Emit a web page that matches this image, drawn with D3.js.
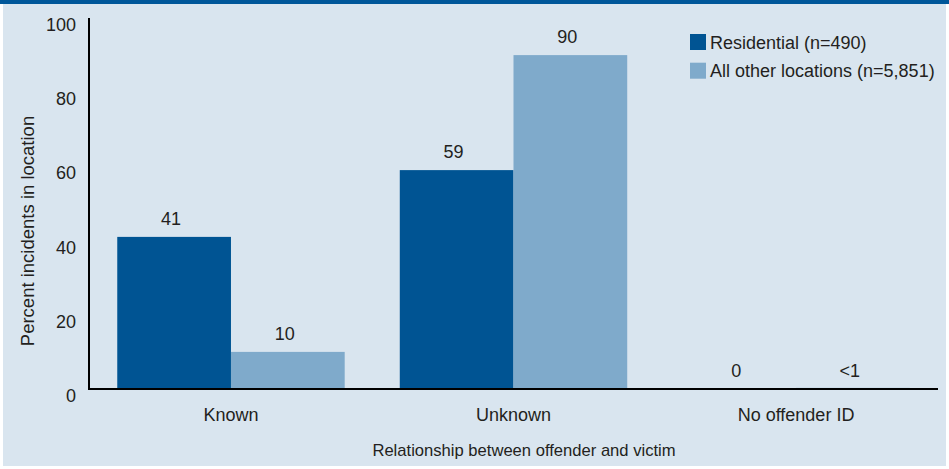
<!DOCTYPE html>
<html>
<head>
<meta charset="utf-8">
<script src="https://cdn.jsdelivr.net/npm/d3@7"></script>
<style>
  html, body { margin: 0; padding: 0; background: #fff; }
  svg { display: block; font-family: "Liberation Sans", Arial, sans-serif; }
</style>
</head>
<body>
<svg id="chart" width="949" height="469"></svg>
<script>
// Data
const categories = ["Known", "Unknown", "No offender ID"];
const seriesNames = ["Residential (n=490)", "All other locations (n=5,851)"];
const residential = [41, 59, 0];
const otherLocations = [10, 90, 0.3];
const residentialLabels = ["41", "59", "0"];
const otherLabels = ["10", "90", "<1"];
const yTicks = [0, 20, 40, 60, 80, 100];

const colors = ["#005493", "#7faacb"];
const textColor = "#231f20";

const svg = d3.select("#chart");
const W = 949, H = 469;

// background panel + top rule
svg.append("rect").attr("x", 3).attr("y", 0).attr("width", W - 6).attr("height", H - 3).attr("fill", "#d9e5ef");
svg.append("rect").attr("x", 0).attr("y", 0).attr("width", W).attr("height", 4).attr("fill", "#00579a");

const m = { left: 89, right: 11, top: 18, bottom: 80 };
const x0 = d3.scaleBand().domain(categories).range([m.left, W - m.right]).paddingInner(0.195).paddingOuter(0.1);
const x1 = d3.scaleBand().domain([0, 1]).range([0, x0.bandwidth()]);
const y = d3.scaleLinear().domain([0, 100]).range([H - m.bottom, m.top]);

const rows = categories.map((c, i) => ({
  cat: c,
  vals: [
    { s: 0, v: residential[i], label: residentialLabels[i] },
    { s: 1, v: otherLocations[i], label: otherLabels[i] }
  ]
}));

const g = svg.selectAll("g.group")
  .data(rows)
  .enter()
  .append("g")
  .attr("transform", d => `translate(${x0(d.cat)},0)`);

g.selectAll("rect")
  .data(d => d.vals)
  .enter()
  .append("rect")
  .attr("x", d => x1(d.s))
  .attr("width", x1.bandwidth())
  .attr("y", d => y(d.v))
  .attr("height", d => y(0) - y(d.v))
  .attr("fill", d => colors[d.s]);

g.selectAll("text")
  .data(d => d.vals)
  .enter()
  .append("text")
  .attr("x", d => x1(d.s) + x1.bandwidth() / 2 - 3)
  .attr("y", d => y(d.s === 1 && d.v < 1 ? 0 : d.v) - 12)
  .attr("text-anchor", "middle")
  .attr("font-size", 18)
  .attr("fill", textColor)
  .text(d => d.label);

// axes
svg.append("line")
  .attr("x1", m.left).attr("x2", m.left)
  .attr("y1", y(100)).attr("y2", y(0))
  .attr("stroke", "#000").attr("stroke-width", 2);
svg.append("line")
  .attr("x1", m.left - 1).attr("x2", W - m.right)
  .attr("y1", y(0)).attr("y2", y(0))
  .attr("stroke", "#000").attr("stroke-width", 2);

svg.selectAll("text.ytick")
  .data(yTicks)
  .enter()
  .append("text")
  .attr("class", "ytick")
  .attr("x", 76)
  .attr("y", d => y(d) + 13)
  .attr("text-anchor", "end")
  .attr("font-size", 18)
  .attr("fill", textColor)
  .text(d => d);

svg.selectAll("text.xtick")
  .data(categories)
  .enter()
  .append("text")
  .attr("class", "xtick")
  .attr("x", d => x0(d) + x0.bandwidth() / 2)
  .attr("y", 421)
  .attr("text-anchor", "middle")
  .attr("font-size", 18)
  .attr("fill", textColor)
  .text(d => d);

svg.append("text")
  .attr("x", 524)
  .attr("y", 456)
  .attr("text-anchor", "middle")
  .attr("font-size", 16.6)
  .attr("fill", textColor)
  .text("Relationship between offender and victim");

svg.append("text")
  .attr("transform", `translate(34,231) rotate(-90)`)
  .attr("text-anchor", "middle")
  .attr("font-size", 18.5)
  .attr("fill", textColor)
  .text("Percent incidents in location");

// legend
const lg = svg.selectAll("g.legend")
  .data(seriesNames)
  .enter()
  .append("g")
  .attr("transform", (d, i) => `translate(690,${34 + i * 28.7})`);
lg.append("rect").attr("width", 16).attr("height", 16).attr("fill", (d, i) => colors[i]);
lg.append("text").attr("x", 20).attr("y", 14.5).attr("font-size", 18).attr("fill", textColor).text(d => d);
</script>
</body>
</html>
